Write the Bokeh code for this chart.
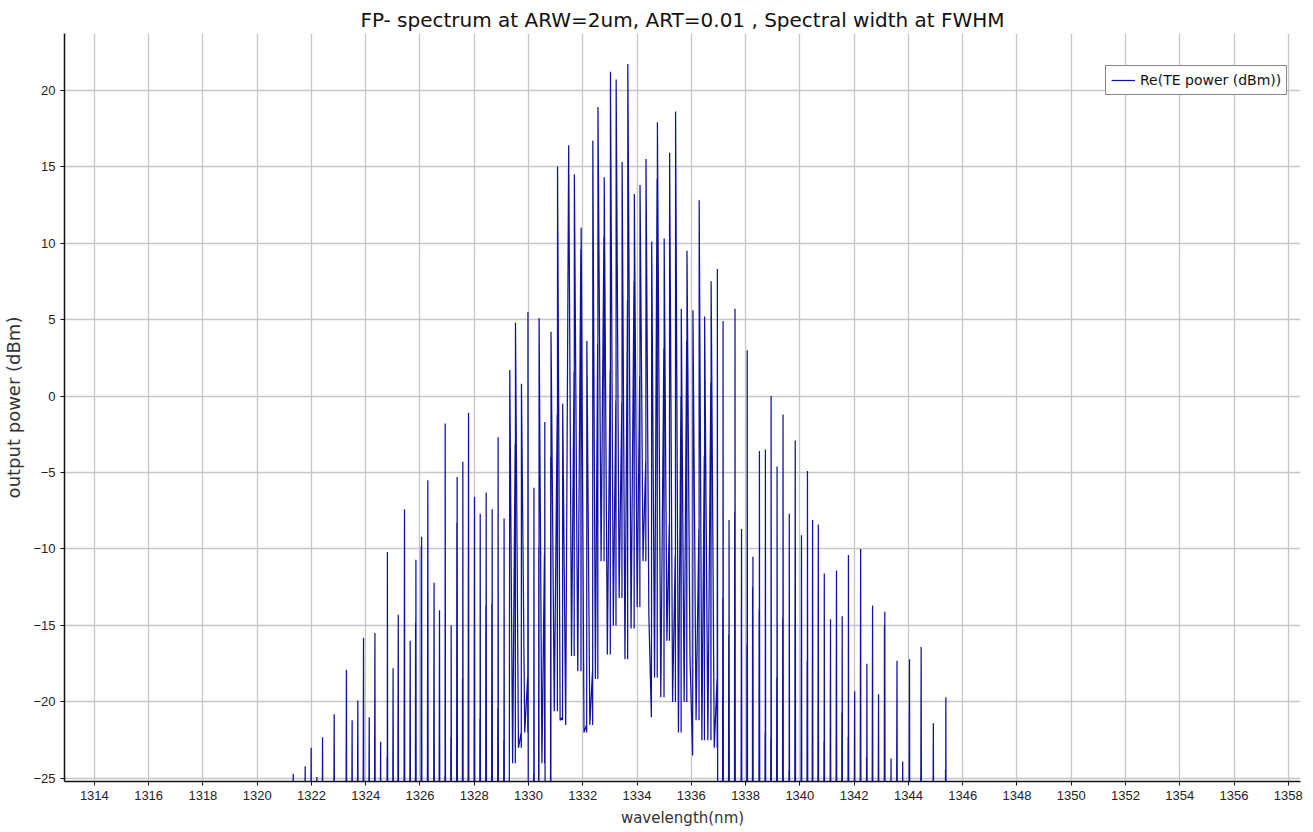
from bokeh.plotting import figure
from bokeh.models import Range1d, FixedTicker, Legend, LegendItem, ColumnDataSource
from bokeh.embed import file_html
from bokeh.resources import INLINE

# ---- data ----
wavelength_nm = [
    1321.33, 1321.77, 1321.99, 1322.20, 1322.41, 1322.84, 1323.29, 1323.50, 1323.71, 1323.92,
    1324.13, 1324.34, 1324.55, 1324.80, 1325.01, 1325.20, 1325.43, 1325.64, 1325.85, 1326.06,
    1326.29, 1326.52, 1326.72, 1326.93, 1327.15, 1327.37, 1327.58, 1327.79, 1328.01, 1328.22,
    1328.44, 1328.66, 1328.88, 1329.10, 1329.31, 1329.52, 1329.74, 1329.98, 1330.20, 1330.39,
    1330.60, 1330.83, 1331.07, 1331.26, 1331.48, 1331.69, 1331.94, 1332.15, 1332.37, 1332.56,
    1332.79, 1333.02, 1333.23, 1333.45, 1333.66, 1333.90, 1334.11, 1334.33, 1334.54, 1334.75,
    1335.00, 1335.20, 1335.42, 1335.63, 1335.84, 1336.06, 1336.29, 1336.49, 1336.73, 1336.96,
    1337.17, 1337.39, 1337.61, 1337.85, 1338.06, 1338.27, 1338.51, 1338.73, 1338.94, 1339.16,
    1339.38, 1339.61, 1339.83, 1340.06, 1340.28, 1340.47, 1340.68, 1340.90, 1341.13, 1341.35,
    1341.56, 1341.79, 1342.02, 1342.24, 1342.47, 1342.68, 1342.90, 1343.13, 1343.36, 1343.58,
    1343.79, 1344.04, 1344.47, 1344.92, 1345.38,
]

peak_dbm = [
    -24.7, -24.2, -23.0, -24.9, -22.3, -20.8, -17.9, -21.2, -19.9, -15.8,
    -21.0, -15.5, -22.6, -10.2, -17.8, -14.3, -7.4, -16.0, -10.7, -9.2,
    -5.5, -12.2, -14.0, -1.8, -15.0, -5.3, -4.3, -1.1, -6.6, -7.7,
    -6.3, -7.4, -2.7, -8.0, 1.7, 4.8, 0.8, 5.5, -6.0, 5.1,
    -1.7, 4.2, 15.0, -0.5, 16.4, 14.5, 11.0, 3.6, 16.7, 18.9,
    14.3, 21.2, 20.7, 15.3, 21.7, 13.2, 13.8, 15.5, 10.1, 17.9,
    10.3, 15.9, 18.6, 5.7, 9.5, 5.6, 12.8, 5.2, 7.5, 8.3,
    4.9, -8.1, 5.7, -8.7, 3.0, -10.5, -3.6, -3.5, 0.0, -4.6,
    -1.2, -7.7, -2.9, -9.1, -4.9, -8.1, -8.4, -11.6, -14.6, -11.4,
    -14.4, -10.4, -19.3, -10.0, -17.5, -13.7, -19.5, -14.1, -23.7, -17.3,
    -23.9, -17.2, -16.4, -21.4, -19.7,
]

# secondary (lower) spike of each mode, None where there is none
sub_dbm = [
    None, None, None, None, None, None, None, None, None, None,
    None, None, None, -23.6, None, None, None, None, -14.8, -9.8,
    None, None, None, -24.8, -22.3, -8.3, -18.5, None, None, -21.1,
    -13.7, -13.6, -20.4, -22.5, None, -3.1, -22.0, -18.4, -24.7, -9.9,
    -10.3, -4.0, -1.2, -21.0, None, 1.6, 9.6, -21.5, -18.0, 3.4,
    10.4, 1.7, -0.3, -0.4, 6.3, 7.5, 1.3, -4.3, -21.0, 14.2,
    3.1, -8.4, -10.4, 0.0, 3.6, -23.5, -8.7, -3.9, 0.9, -18.5,
    -13.2, -15.6, -7.6, None, -16.2, -12.5, -14.0, -22.0, -22.4, -18.4,
    -14.5, -24.5, None, None, -17.3, None, None, -22.6, None, None,
    -20.7, -22.3, None, None, -23.6, None, None, -15.0, None, None,
    None, None, None, None, -24.4,
]

# level the trace falls to between neighbouring modes (-30 = below the visible floor)
trough_dbm = [
    -30, -30, -30, -30, -30, -30, -30, -30, -30, -30,
    -30, -30, -30, -30, -30, -30, -30, -30, -30, -30,
    -30, -30, -30, -30, -30, -30, -30, -30, -30, -30,
    -30, -30, -30, -30, -24.0, -23.0, -22.0, -30, -30, -24.0,
    -30, -20.6, -21.2, -21.5, -17.0, -18.0, -22.0, -21.5, -18.5, -10.8,
    -16.9, -15.0, -13.2, -17.2, -15.2, -13.8, -10.8, -14.3, -18.4, -19.7,
    -16.0, -20.0, -22.0, -20.0, -17.0, -21.2, -22.5, -22.5, -23.0, -30,
    -30, -30, -30, -30, -30, -30, -30, -30, -30, -30,
    -30, -30, -30, -30, -30, -30, -30, -30, -30, -30,
    -30, -30, -30, -30, -30, -30, -30, -30, -30, -30,
    -30, -30, -30, -30,
]

x_ticks = [1314, 1316, 1318, 1320, 1322, 1324, 1326, 1328, 1330, 1332, 1334, 1336,
           1338, 1340, 1342, 1344, 1346, 1348, 1350, 1352, 1354, 1356, 1358]
y_ticks = [-25, -20, -15, -10, -5, 0, 5, 10, 15, 20]

title_text = "FP- spectrum at ARW=2um, ART=0.01 , Spectral width at FWHM"
x_label = "wavelength(nm)"
y_label = "output power (dBm)"
series_label = "Re(TE power (dBm))"

FLOOR = -30.0

# ---- build the trace path from the mode list ----
xs, ys = [], []
n = len(wavelength_nm)
xs.append(wavelength_nm[0] - 0.05); ys.append(FLOOR)
prev_trough = FLOOR
for i in range(n):
    x = wavelength_nm[i]
    if i > 0 and trough_dbm[i - 1] <= -25:
        xs.append(x - 0.02); ys.append(FLOOR)
        prev_trough = FLOOR
    if sub_dbm[i] is not None:
        xs.append(x - 0.012); ys.append(sub_dbm[i])
        xs.append(x - 0.006); ys.append(prev_trough)
    xs.append(x); ys.append(peak_dbm[i])
    if i < n - 1:
        t = trough_dbm[i]
        if t > -25:
            xs.append((x + wavelength_nm[i + 1]) / 2.0); ys.append(t)
            prev_trough = t
        else:
            xs.append(x + 0.012); ys.append(FLOOR)
            prev_trough = FLOOR
    else:
        xs.append(x + 0.012); ys.append(FLOOR)
        xs.append(1358.45); ys.append(FLOOR)

src = ColumnDataSource(data=dict(x=xs, y=ys))

p = figure(width=1313, height=832, output_backend="svg", toolbar_location=None,
           x_range=Range1d(1312.9, 1358.45), y_range=Range1d(-25.2, 23.7),
           min_border_left=62, min_border_right=13, min_border_top=33, min_border_bottom=51,
           title=title_text)
p.outline_line_color = None
p.background_fill_color = "white"
p.border_fill_color = "white"

p.title.align = "center"
p.title.text_font = "DejaVu Sans"
p.title.text_font_size = "20px"
p.title.text_font_style = "normal"
p.title.text_color = "#111111"
p.title.standoff = 3
p.title.offset = 0

r = p.line("x", "y", source=src, line_color="#1212a0", line_width=1.25)

for ax in (p.xaxis[0], p.yaxis[0]):
    ax.axis_line_color = "#111111"
    ax.axis_line_width = 1.5
    ax.major_tick_line_color = "#111111"
    ax.major_tick_out = 4
    ax.major_tick_in = 0
    ax.minor_tick_line_color = None
    ax.major_label_text_font = "Liberation Sans"
    ax.major_label_text_font_size = "13px"
    ax.major_label_text_color = "#222222"
    ax.axis_label_text_font = "DejaVu Sans"
    ax.axis_label_text_font_style = "normal"
    ax.axis_label_text_color = "#333333"

p.xaxis.ticker = FixedTicker(ticks=x_ticks)
p.yaxis.ticker = FixedTicker(ticks=y_ticks)
p.xaxis.axis_label = x_label
p.yaxis.axis_label = y_label
p.xaxis.axis_label_text_font_size = "15px"
p.yaxis.axis_label_text_font_size = "18px"
p.xaxis.axis_label_standoff = 6
p.yaxis.axis_label_standoff = 6

p.grid.grid_line_color = "#c6c6c6"
p.grid.grid_line_width = 1.3

legend = Legend(items=[LegendItem(label=series_label, renderers=[r])],
                location=(1041, 686))
legend.border_line_color = "#111111"
legend.border_line_width = 1
legend.background_fill_color = "white"
legend.background_fill_alpha = 1.0
legend.label_text_font = "DejaVu Sans"
legend.label_text_font_size = "14px"
legend.label_text_color = "#111111"
legend.glyph_width = 24
legend.glyph_height = 18
legend.label_standoff = 5
legend.padding = 5
legend.spacing = 0
legend.margin = 0
legend.label_height = 18
p.add_layout(legend)

open("out.html", "w").write(file_html(p, INLINE))
